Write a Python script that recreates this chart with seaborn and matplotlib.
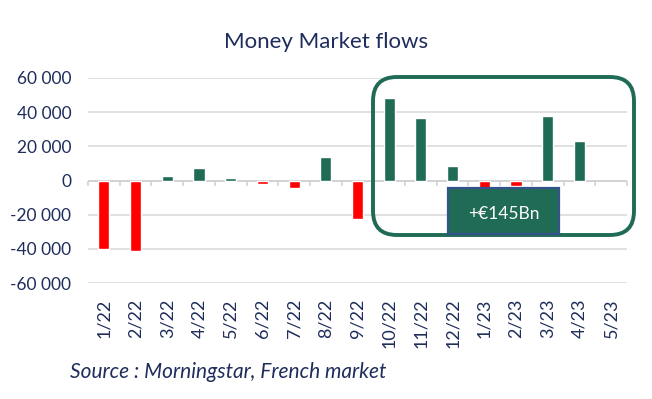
import numpy as np
import pandas as pd
import matplotlib
matplotlib.use("Agg")
import matplotlib.pyplot as plt
import matplotlib.transforms as mtransforms
from matplotlib.patches import FancyBboxPatch, Rectangle
import seaborn as sns

## Data (net flows, EUR m)
months = ["1/22", "2/22", "3/22", "4/22", "5/22", "6/22", "7/22", "8/22", "9/22",
          "10/22", "11/22", "12/22", "1/23", "2/23", "3/23", "4/23", "5/23"]
flows = [-40000, -41200, 2700, 7400, 1200, -2100, -4300, 13600, -22800,
         48500, 36500, 8200, -4500, -3500, 37700, 23400, np.nan]
y_ticks = [-60000, -40000, -20000, 0, 20000, 40000, 60000]

GREEN = "#1F6B55"
RED = "#FF0000"
NAVY = "#1F2D5C"
W, H = 652, 399

sns.set_theme(style="white")
plt.rcParams["font.family"] = ["Lato", "DejaVu Sans"]

df = pd.DataFrame({"month": months, "flow": flows})
df["sign"] = np.where(df["flow"] >= 0, "pos", "neg")

fig = plt.figure(figsize=(W / 100, H / 100), dpi=100)
ax = fig.add_axes([88 / W, 1 - 283 / H, (627 - 88) / W, (283 - 78) / H])

sns.barplot(data=df, x="month", y="flow", hue="sign", order=months,
            palette={"pos": GREEN, "neg": RED}, dodge=False, width=0.35,
            saturation=1, legend=False, ax=ax, zorder=3)

ax.set_ylim(-60000, 60000)
ax.set_xlim(-0.5, len(months) - 0.5)
ax.set_yticks(y_ticks)
ax.set_yticklabels([f"{v:,}".replace(",", " ") for v in y_ticks])
ax.yaxis.grid(True, color="#D9D9D9", lw=1.1, zorder=0)
ax.set_axisbelow(True)
for s in ax.spines.values():
    s.set_visible(False)
ax.tick_params(axis="y", length=0, pad=12, labelsize=12.5, labelcolor=NAVY)
ax.tick_params(axis="x", length=0, pad=11, labelsize=13, labelcolor=NAVY,
               labelrotation=90)
ax.set_xlabel("")
ax.set_ylabel("")

# category axis drawn at zero with boundary ticks
ax.axhline(0, color="#D0D0D0", lw=1.1, zorder=2)
ax.vlines(np.arange(len(months) + 1) - 0.5, -3000, 0, color="#D0D0D0",
          lw=1.1, zorder=2, clip_on=False)

# pixel-space transform for the annotation shapes
px = mtransforms.Affine2D().scale(1 / W, -1 / H).translate(0, 1) + fig.transFigure

frame = FancyBboxPatch((373, 77), 261, 158,
                       boxstyle="round,pad=0,rounding_size=24",
                       fc="none", ec=GREEN, lw=2.8, transform=px,
                       zorder=5, clip_on=False)
fig.patches.append(frame)

label_box = Rectangle((448, 188), 111, 46, fc=GREEN, ec="#34528C", lw=1.6,
                      transform=px, zorder=6, clip_on=False)
fig.patches.append(label_box)
fig.text(503.5 / W, 1 - 214 / H, "+€145Bn", color="white", fontsize=12.5,
         ha="center", va="center", zorder=7)

fig.text(326 / W, 1 - 42 / H, "Money Market flows", color=NAVY, fontsize=16,
         ha="center", va="center")
fig.text(70 / W, 1 - 372 / H, "Source : Morningstar, French market",
         color=NAVY, fontsize=15, style="italic", ha="left", va="center")

fig.savefig("out.png", dpi=100)
